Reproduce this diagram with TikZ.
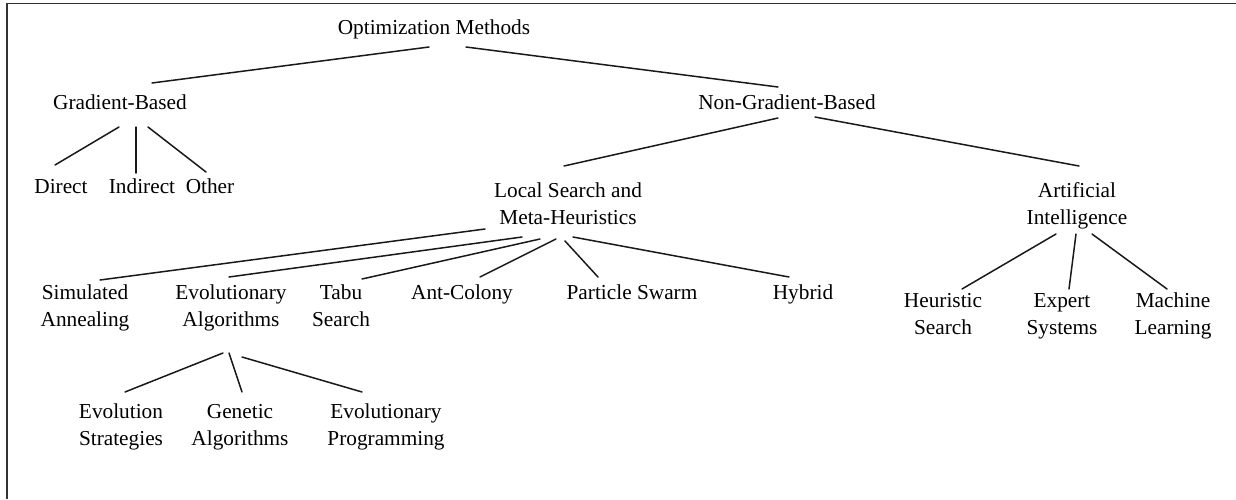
\documentclass[tikz,border=0pt]{standalone}
\usepackage{fontspec}
\setmainfont{Liberation Serif}
\usetikzlibrary{calc}
\begin{document}
\begin{tikzpicture}[x=1pt,y=-1pt,
  lbl/.style={inner sep=0pt, outer sep=0pt, align=center, font=\fontsize{21.3}{27}\selectfont},
  edge/.style={line width=1.5pt, black!90, line cap=round}]
\useasboundingbox (0,0) rectangle (1236,499);
\draw[line width=1.6pt, black!80] (7,499) -- (7,3.5) -- (1236,3.5);

\node[lbl] (opt) at (434,29) {Optimization Methods\strut};
\node[lbl] (grad) at (120,104) {Gradient-Based\strut};
\node[lbl] (nongrad) at (787,104) {Non-Gradient-Based\strut};
\node[lbl] (direct) at (61,188) {Direct\strut};
\node[lbl] (indirect) at (142,188) {Indirect\strut};
\node[lbl] (other) at (210,188) {Other\strut};
\node[lbl] (local) at (568,205.5) {Local Search and\strut\\Meta-Heuristics\strut};
\node[lbl] (ai) at (1077,205.5) {Artificial\strut\\Intelligence\strut};
\node[lbl] (sa) at (85,308) {Simulated\strut\\Annealing\strut};
\node[lbl] (ea) at (231,308) {Evolutionary\strut\\Algorithms\strut};
\node[lbl] (tabu) at (341,308) {Tabu\strut\\Search\strut};
\node[lbl] (ant) at (462,294.5) {Ant-Colony\strut};
\node[lbl] (pso) at (632,294.5) {Particle Swarm\strut};
\node[lbl] (hybrid) at (803,294.5) {Hybrid\strut};
\node[lbl] (heur) at (943,316) {Heuristic\strut\\Search\strut};
\node[lbl] (expert) at (1062,316) {Expert\strut\\Systems\strut};
\node[lbl] (ml) at (1173,316) {Machine\strut\\Learning\strut};
\node[lbl] (es) at (121,427) {Evolution\strut\\Strategies\strut};
\node[lbl] (ga) at (240,427) {Genetic\strut\\Algorithms\strut};
\node[lbl] (ep) at (386,427) {Evolutionary\strut\\Programming\strut};

\draw[edge] ($(opt)+(-5,18)$) -- ($(grad)+(32,-21)$);
\draw[edge] ($(opt)+(32,18)$) -- ($(nongrad)+(-9,-17)$);
\draw[edge] ($(grad)+(-1,23)$) -- ($(direct)+(-6,-23)$);
\draw[edge] ($(grad)+(16,23)$) -- ($(indirect)+(-6,-15)$);
\draw[edge] ($(grad)+(28,23)$) -- ($(other)+(-4,-16)$);
\draw[edge] ($(nongrad)+(-9,14)$) -- ($(local)+(-4,-39.5)$);
\draw[edge] ($(nongrad)+(28,13)$) -- ($(ai)+(2,-39.5)$);
\draw[edge] ($(local)+(-83,23.5)$) -- ($(sa)+(15,-28)$);
\draw[edge] ($(local)+(-46,31.5)$) -- ($(ea)+(-2,-31)$);
\draw[edge] ($(local)+(-28,33.5)$) -- ($(tabu)+(21,-29)$);
\draw[edge] ($(local)+(-12,33.5)$) -- ($(ant)+(18,-17.5)$);
\draw[edge] ($(local)+(-3,35.5)$) -- ($(pso)+(-34,-17.5)$);
\draw[edge] ($(local)+(5,31.5)$) -- ($(hybrid)+(-14,-17.5)$);
\draw[edge] ($(ai)+(-21,28.5)$) -- ($(heur)+(19,-27)$);
\draw[edge] ($(ai)+(-1,28.5)$) -- ($(expert)+(7,-27)$);
\draw[edge] ($(ai)+(15,28.5)$) -- ($(ml)+(-6,-27)$);
\draw[edge] ($(ea)+(-8,45)$) -- ($(es)+(4,-35)$);
\draw[edge] ($(ea)+(-2,45)$) -- ($(ga)+(2,-35)$);
\draw[edge] ($(ea)+(11,49)$) -- ($(ep)+(-24,-35)$);
\end{tikzpicture}
\end{document}
